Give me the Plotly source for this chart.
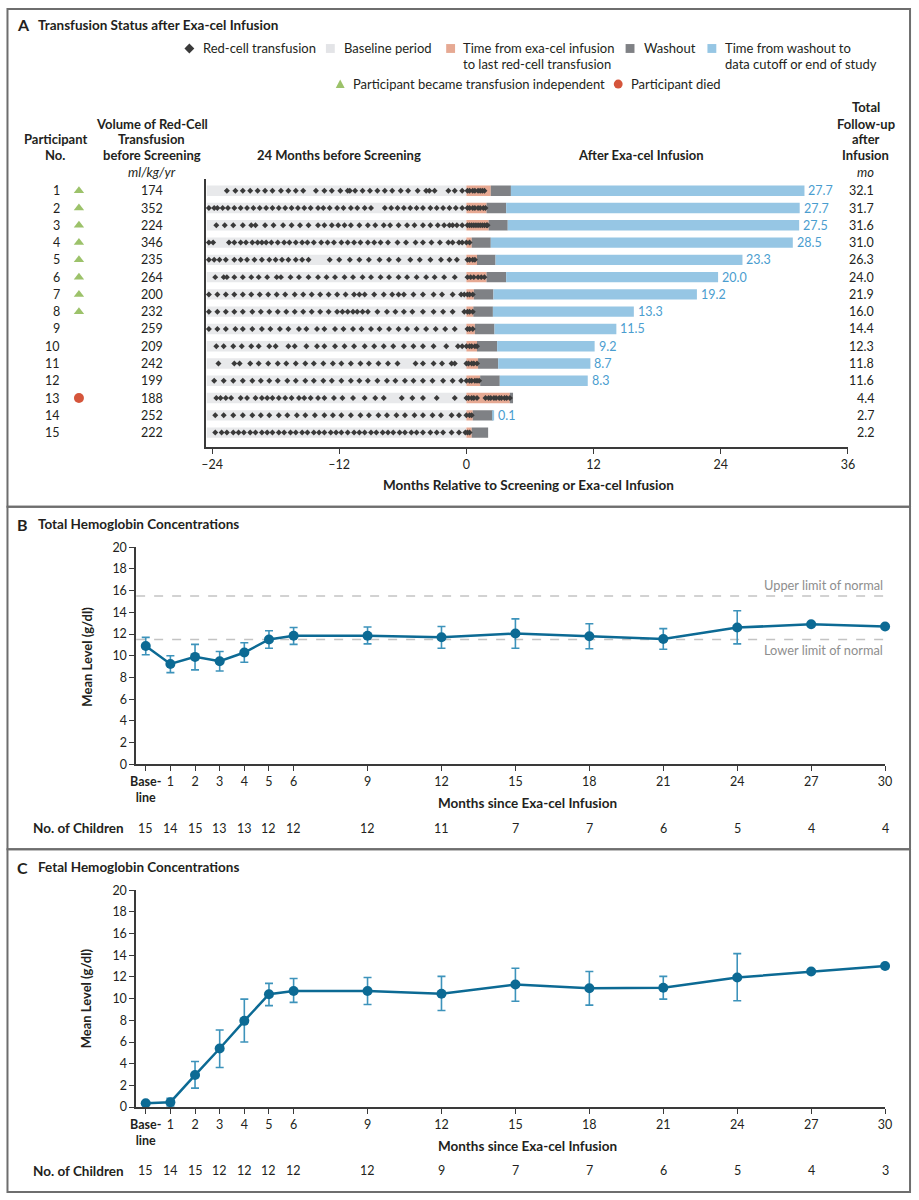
import plotly.graph_objects as go

W, H = 919, 1200
FONT = "Lato, Roboto, sans-serif"
TXT = "#231f20"

# ---------------- Panel A data ----------------
participants = list(range(1, 16))
volume = [174, 352, 224, 346, 235, 264, 200, 232, 259, 209, 242, 199, 188, 252, 222]
total_followup = [32.1, 31.7, 31.6, 31.0, 26.3, 24.0, 21.9, 16.0, 14.4, 12.3, 11.8, 11.6, 4.4, 2.7, 2.2]
indep_months = [27.7, 27.7, 27.5, 28.5, 23.3, 20.0, 19.2, 13.3, 11.5, 9.2, 8.7, 8.3, None, 0.1, None]
last_transfusion = [2.3, 1.9, 2.1, 0.5, 1.0, 1.9, 0.7, 0.65, 0.8, 1.0, 1.1, 1.3, 4.1, 0.6, 0.5]
washout_end = [4.2, 3.75, 3.9, 2.3, 2.75, 3.75, 2.55, 2.5, 2.65, 2.9, 3.0, 3.15, 4.4, 2.5, 2.05]
baseline_start = -24.5
status = ["ti", "ti", "ti", "ti", "ti", "ti", "ti", "ti", None, None, None, None, "died", None, None]

tx_01 = [-22.6, -21.8, -21.1, -20.4, -19.7, -19.0, -18.3, -17.5, -16.8, -16.1, -15.4, -14.2, -13.4, -12.7, -11.9, -11.2, -11.0, -10.5, -9.8, -9.1, -8.4, -7.7, -7.0, -6.2, -5.5, -4.6, -3.8, -3.5, -3.0, -1.7, -1.1, -0.4, 0.1, 0.3, 0.6, 0.8, 1.1, 1.3, 1.5, 1.7]
tx_02 = [-24.3, -23.8, -23.5, -23.0, -22.5, -21.9, -21.3, -20.7, -20.1, -19.5, -18.9, -18.3, -17.7, -17.1, -16.5, -15.9, -15.3, -14.7, -14.0, -13.5, -12.9, -12.2, -11.6, -10.9, -10.3, -9.6, -9.0, -7.7, -7.1, -6.5, -5.9, -5.3, -4.7, -4.1, -3.4, -2.8, -2.2, -1.6, -1.0, -0.4, 0.1, 0.3, 0.6, 0.8, 1.1, 1.3, 1.6, 1.8]
tx_03 = [-23.6, -22.8, -22.0, -21.1, -20.3, -19.9, -19.0, -18.2, -17.3, -16.5, -15.7, -14.9, -14.0, -13.4, -12.7, -12.1, -11.5, -10.9, -10.1, -9.3, -8.6, -7.8, -7.2, -6.4, -5.6, -4.9, -4.1, -3.4, -2.7, -2.1, -1.6, -1.3, -0.9, -0.4, 0.1, 0.3, 0.5, 0.7, 0.9, 1.1, 1.3, 1.5, 1.7, 1.9, 2.0]
tx_04 = [-24.3, -23.9, -22.4, -21.9, -21.3, -20.8, -20.2, -19.7, -19.3, -18.9, -18.4, -17.8, -17.2, -16.7, -16.1, -15.5, -15.0, -14.4, -13.7, -13.1, -12.5, -11.8, -11.2, -10.6, -10.0, -9.3, -8.7, -8.1, -7.4, -6.5, -5.7, -4.8, -4.1, -3.3, -2.5, -1.7, -1.3, -0.7, -0.4, 0.0, 0.3]
tx_05 = [-24.3, -23.8, -23.3, -22.7, -21.9, -21.3, -20.7, -20.0, -19.3, -18.6, -18.0, -17.4, -16.8, -16.1, -15.5, -14.9, -12.9, -12.0, -11.0, -10.1, -9.2, -8.2, -7.3, -6.4, -5.3, -4.4, -3.4, -2.4, -1.6, -0.9, 0.1, 0.3, 0.6, 0.8]
tx_06 = [-23.7, -22.9, -22.6, -21.9, -21.1, -20.3, -19.6, -18.8, -17.9, -17.5, -16.6, -15.8, -14.9, -14.0, -13.2, -12.4, -11.5, -10.7, -9.8, -9.0, -8.1, -7.3, -6.4, -5.6, -4.7, -3.8, -3.0, -2.1, -1.1, 0.1, 0.4, 0.7, 1.1, 1.4, 1.7]
tx_07 = [-24.3, -23.5, -22.7, -21.9, -21.1, -20.3, -19.5, -18.7, -17.9, -17.1, -16.2, -15.4, -14.6, -13.8, -13.0, -12.2, -11.4, -10.6, -10.1, -9.6, -8.7, -7.8, -7.0, -6.4, -5.9, -5.0, -4.1, -3.1, -2.3, -1.3, -0.5, -0.2, 0.1, 0.3, 0.6]
tx_08 = [-24.3, -23.5, -22.7, -21.9, -21.1, -20.2, -19.4, -18.6, -17.8, -17.0, -16.2, -15.4, -14.6, -13.8, -13.0, -12.2, -11.7, -11.2, -10.7, -10.3, -9.8, -9.3, -8.4, -7.5, -6.7, -5.9, -5.1, -4.1, -3.1, -2.2, -1.3, -0.2, 0.1, 0.3, 0.6]
tx_09 = [-24.3, -23.5, -22.7, -21.8, -21.1, -20.2, -19.3, -18.5, -17.6, -16.8, -15.8, -15.1, -14.1, -13.4, -12.4, -11.6, -10.7, -9.9, -9.0, -8.2, -7.3, -6.4, -5.6, -4.7, -3.8, -2.9, -2.0, -1.1, 0.1, 0.3, 0.6]
tx_10 = [-23.6, -22.9, -22.0, -21.2, -20.3, -19.6, -18.6, -18.0, -16.8, -16.2, -15.1, -14.1, -13.4, -12.4, -11.5, -10.6, -9.6, -8.7, -7.8, -6.9, -5.9, -5.0, -4.1, -3.1, -1.9, -0.8, -0.4, 0.0, 0.3, 0.5, 0.8, 1.0]
tx_11 = [-23.4, -21.9, -21.4, -20.4, -19.6, -18.7, -17.8, -17.0, -16.1, -15.2, -14.4, -13.5, -12.6, -11.8, -10.9, -10.0, -9.2, -8.3, -7.4, -6.5, -4.8, -4.1, -3.1, -2.3, -1.4, -1.1, 0.0, 0.2, 0.5, 0.7, 1.0]
tx_12 = [-23.8, -22.9, -22.0, -21.1, -20.2, -19.4, -18.6, -17.8, -16.9, -16.1, -15.2, -14.4, -13.5, -12.7, -11.8, -10.9, -10.1, -9.3, -8.4, -7.5, -6.7, -5.8, -5.0, -4.1, -3.2, -2.2, -1.3, -0.5, 0.0, 0.3, 0.5, 0.8, 1.0, 1.2]
tx_13 = [-23.6, -23.2, -22.7, -22.2, -21.3, -20.7, -19.9, -19.3, -18.8, -18.3, -17.7, -17.1, -16.5, -15.8, -15.3, -14.7, -14.0, -13.4, -12.5, -11.7, -10.7, -9.6, -8.6, -7.8, -6.1, -5.1, -4.1, -2.8, -1.1, 0.0, 0.2, 0.5, 0.7, 1.0, 1.8, 2.1, 2.3, 2.6, 2.8, 3.1, 3.3, 3.6, 3.8, 4.1]
tx_14 = [-23.7, -22.9, -22.0, -21.1, -20.2, -19.4, -18.6, -17.7, -16.9, -16.0, -15.2, -14.3, -13.4, -12.6, -11.8, -10.9, -10.0, -9.2, -8.3, -7.5, -6.6, -5.8, -4.9, -4.1, -3.2, -2.4, -1.4, -0.7, 0.0, 0.3, 0.5]
tx_15 = [-23.7, -23.1, -22.6, -22.0, -21.5, -21.0, -20.4, -19.9, -19.3, -18.8, -18.3, -17.7, -17.2, -16.6, -16.1, -15.5, -15.0, -14.4, -13.9, -13.4, -12.8, -12.3, -11.8, -11.2, -10.6, -10.1, -9.6, -9.0, -8.5, -7.9, -7.4, -6.9, -6.3, -5.8, -5.2, -4.7, -4.1, -3.4, -2.8, -2.2, -1.4, -0.7, -0.1, 0.1, 0.3]

# ---------------- Panels B & C data ----------------
months = [0, 1, 2, 3, 4, 5, 6, 9, 12, 15, 18, 21, 24, 27, 30]
month_labels = ["<b>Base-</b><br><b>line</b>", "1", "2", "3", "4", "5", "6", "9", "12", "15", "18", "21", "24", "27", "30"]

hb_mean = [10.9, 9.25, 9.9, 9.5, 10.3, 11.5, 11.85, 11.85, 11.7, 12.05, 11.8, 11.55, 12.6, 12.9, 12.7]
hb_upper = [11.7, 10.0, 11.05, 10.4, 11.2, 12.3, 12.6, 12.65, 12.7, 13.4, 12.95, 12.5, 14.15, None, None]
hb_lower = [10.1, 8.45, 8.7, 8.6, 9.4, 10.7, 11.05, 11.1, 10.7, 10.7, 10.65, 10.6, 11.1, None, None]
hb_n = [15, 14, 15, 13, 13, 12, 12, 12, 11, 7, 7, 6, 5, 4, 4]
hb_uln = 15.5
hb_lln = 11.5

hbf_mean = [0.35, 0.45, 2.95, 5.4, 7.95, 10.4, 10.7, 10.7, 10.45, 11.3, 10.95, 11.0, 11.95, 12.5, 13.0]
hbf_upper = [None, 0.8, 4.2, 7.1, 9.95, 11.4, 11.85, 11.95, 12.05, 12.8, 12.5, 12.05, 14.15, None, None]
hbf_lower = [None, 0.1, 1.75, 3.65, 6.0, 9.35, 9.65, 9.45, 8.9, 9.75, 9.4, 9.95, 9.8, None, None]
hbf_n = [15, 14, 15, 12, 12, 12, 12, 12, 9, 7, 7, 6, 5, 4, 3]

# ---------------- colours ----------------
C_BASE = "#e8e9eb"
C_PINK = "#e6a993"
C_WASH = "#7f8185"
C_BLUE = "#96c6e4"
C_BLUE_TXT = "#4a9dcf"
C_DIAM = "#3a3a3a"
C_TRI = "#9cc26a"
C_DIED = "#d5553b"
C_LINE = "#0c6a94"
C_ERR = "#3d93bb"
C_AXIS = "#3a3a3a"
BAR_W = 0.6


def X(px):
    return px / W


def Y(py):
    return 1 - py / H


fig = go.Figure()

# ---------- Panel A bars ----------
fig.add_trace(go.Bar(orientation="h", y=participants, x=[0 - baseline_start] * len(participants),
                     base=[baseline_start] * len(participants), marker=dict(color=C_BASE, line=dict(width=0)),
                     width=BAR_W, xaxis="x", yaxis="y", hoverinfo="skip"))
fig.add_trace(go.Bar(orientation="h", y=participants, x=last_transfusion, base=[0] * len(participants),
                     marker=dict(color=C_PINK, line=dict(width=0)), width=BAR_W, xaxis="x", yaxis="y"))
fig.add_trace(go.Bar(orientation="h", y=participants,
                     x=[w - l for w, l in zip(washout_end, last_transfusion)], base=last_transfusion,
                     marker=dict(color=C_WASH, line=dict(width=0)), width=BAR_W, xaxis="x", yaxis="y"))
blue_y = [p for p, d in zip(participants, indep_months) if d is not None]
blue_base = [w for w, d in zip(washout_end, indep_months) if d is not None]
blue_len = [d for d in indep_months if d is not None]
fig.add_trace(go.Bar(orientation="h", y=blue_y, x=blue_len, base=blue_base,
                     marker=dict(color=C_BLUE, line=dict(width=0)), width=BAR_W, xaxis="x", yaxis="y"))

# diamonds (red-cell transfusions)
tx_rows = [tx_01, tx_02, tx_03, tx_04, tx_05, tx_06, tx_07, tx_08, tx_09, tx_10, tx_11, tx_12, tx_13, tx_14, tx_15]
dx, dy = [], []
for p, row in zip(participants, tx_rows):
    dx += row
    dy += [p] * len(row)
fig.add_trace(go.Scatter(x=dx, y=dy, mode="markers", marker=dict(symbol="diamond", size=4.6, color=C_DIAM,
                                                                 line=dict(width=0)),
                         xaxis="x", yaxis="y", cliponaxis=False))

# status markers on helper axis x4 (spans the page width in page pixels)
ti_y = [p for p, s in zip(participants, status) if s == "ti"]
died_y = [p for p, s in zip(participants, status) if s == "died"]
fig.add_trace(go.Scatter(x=[74] * len(ti_y), y=ti_y, mode="markers",
                         marker=dict(symbol="triangle-up", size=9, color=C_TRI), xaxis="x4", yaxis="y"))
fig.add_trace(go.Scatter(x=[74] * len(died_y), y=died_y, mode="markers",
                         marker=dict(symbol="circle", size=10, color=C_DIED), xaxis="x4", yaxis="y"))


# ---------- Panels B & C ----------
def add_line_panel(mean, up, lo, xa, ya):
    idx = [i for i, v in enumerate(up) if v is not None]
    fig.add_trace(go.Scatter(
        x=[months[i] for i in idx], y=[mean[i] for i in idx], mode="markers",
        marker=dict(size=2, color="rgba(0,0,0,0)"),
        error_y=dict(type="data", symmetric=False, array=[up[i] - mean[i] for i in idx],
                     arrayminus=[mean[i] - lo[i] for i in idx], color=C_ERR, thickness=1.6, width=4),
        xaxis=xa, yaxis=ya, cliponaxis=False))
    fig.add_trace(go.Scatter(x=months, y=mean, mode="lines+markers",
                             line=dict(color=C_LINE, width=2.5), marker=dict(size=10, color=C_LINE),
                             xaxis=xa, yaxis=ya, cliponaxis=False))


add_line_panel(hb_mean, hb_upper, hb_lower, "x2", "y2")
add_line_panel(hbf_mean, hbf_upper, hbf_lower, "x3", "y3")

axis_common = dict(showgrid=False, zeroline=False, showline=True, linecolor=C_AXIS, linewidth=1.5,
                   ticks="outside", ticklen=5, tickwidth=1.3, tickcolor=C_AXIS,
                   tickfont=dict(size=12.5, color=TXT, family=FONT))

layout = dict(
    width=W, height=H, margin=dict(l=0, r=0, t=0, b=0),
    paper_bgcolor="white", plot_bgcolor="rgba(0,0,0,0)", showlegend=False,
    font=dict(family=FONT, size=13, color=TXT), barmode="overlay",
    xaxis=dict(domain=[X(203), X(854)], range=[-24.56, 36], tickvals=[-24, -12, 0, 12, 24, 36],
               ticktext=["–24", "–12", "0", "12", "24", "36"], anchor="y", **axis_common),
    yaxis=dict(domain=[Y(445), Y(173)], range=[15.86, 0.31], showgrid=False, zeroline=False,
               showline=True, linecolor=C_AXIS, linewidth=1.5, showticklabels=False, ticks="", anchor="x"),
    xaxis4=dict(domain=[0, 1], range=[0, W], visible=False, anchor="y", fixedrange=True),
    xaxis2=dict(domain=[X(132), X(891.7)], range=[-0.39, 30], tickvals=months, ticktext=month_labels,
                anchor="y2", **axis_common),
    yaxis2=dict(domain=[Y(766), Y(546)], range=[0, 20], tickvals=list(range(0, 21, 2)), anchor="x2",
                **axis_common),
    xaxis3=dict(domain=[X(132), X(891.7)], range=[-0.39, 30], tickvals=months, ticktext=month_labels,
                anchor="y3", **axis_common),
    yaxis3=dict(domain=[Y(1113), Y(893.3)], range=[0, 20], tickvals=list(range(0, 21, 2)), anchor="x3",
                **axis_common),
)
fig.update_layout(**layout)

shapes = []
ann = []

# blue bar labels
for yv, b, l in zip(blue_y, blue_base, blue_len):
    ann.append(dict(text=f"{l:.1f}", xref="x", yref="y", x=b + l, y=yv, xanchor="left", yanchor="middle",
                    xshift=2, showarrow=False, font=dict(size=12.5, color=C_BLUE_TXT)))

# panel frames
FR = dict(color="#6e6e6e", width=2)
for y0, y1 in [(1, 505), (505, 852), (852, 1199)]:
    shapes.append(dict(type="rect", xref="paper", yref="paper", x0=X(1.5), x1=X(917), y0=Y(y1), y1=Y(y0),
                       line=FR, fillcolor="rgba(0,0,0,0)", layer="below"))

# reference lines in panel B
for val in [hb_uln, hb_lln]:
    shapes.append(dict(type="line", xref="x2", yref="y2", x0=-0.39, x1=30, y0=val, y1=val,
                       line=dict(color="#c3c3c3", width=1.5, dash="dash"), layer="below"))
ann.append(dict(text="Upper limit of normal", xref="x2", yref="y2", x=30, y=hb_uln, xanchor="right",
                yanchor="bottom", yshift=1, showarrow=False, font=dict(size=12.8, color="#8e8e8e")))
ann.append(dict(text="Lower limit of normal", xref="x2", yref="y2", x=30, y=hb_lln, xanchor="right",
                yanchor="top", yshift=0, showarrow=False, font=dict(size=12.8, color="#8e8e8e")))


def txt(text, x, y, xanchor="center", yanchor="middle", size=13, color=TXT, **kw):
    d = dict(text=text, xref="paper", yref="paper", x=X(x), y=Y(y), xanchor=xanchor, yanchor=yanchor,
             showarrow=False, font=dict(size=size, color=color, family=FONT))
    d.update(kw)
    ann.append(d)


# titles
for letter, title, yy in [("A", "Transfusion Status after Exa-cel Infusion", 17),
                          ("B", "Total Hemoglobin Concentrations", 523),
                          ("C", "Fetal Hemoglobin Concentrations", 870)]:
    txt(f"<b>{letter}</b>", 9, yy, xanchor="left", size=16)
    txt(f"<b>{title}</b>", 30, yy, xanchor="left", size=13.5)


# legend (panel A)
def square(cx, cy, color, s=9):
    shapes.append(dict(type="rect", xref="paper", yref="paper", x0=X(cx - s / 2), x1=X(cx + s / 2),
                       y0=Y(cy + s / 2), y1=Y(cy - s / 2), line=dict(width=0), fillcolor=color))


def path(points, color):
    p = "M " + " L ".join(f"{X(a):.5f},{Y(b):.5f}" for a, b in points) + " Z"
    shapes.append(dict(type="path", xref="paper", yref="paper", path=p, line=dict(width=0), fillcolor=color))


path([(186, 36), (191, 41), (186, 46), (181, 41)], C_DIAM)
txt("Red-cell transfusion", 198, 41, xanchor="left")
square(329, 41, "#e3e4e7")
txt("Baseline period", 341, 41, xanchor="left")
square(451, 41, C_PINK)
txt("Time from exa-cel infusion", 462, 41, xanchor="left")
txt("to last red-cell transfusion", 462, 57, xanchor="left")
square(633, 41, C_WASH)
txt("Washout", 645, 41, xanchor="left")
square(716, 41, C_BLUE)
txt("Time from washout to", 727, 41, xanchor="left")
txt("data cutoff or end of study", 727, 57, xanchor="left")
path([(339, 72.5), (343.5, 81), (334.5, 81)], C_TRI)
txt("Participant became transfusion independent", 350, 77, xanchor="left")
shapes.append(dict(type="circle", xref="paper", yref="paper", x0=X(616.5), x1=X(625.5), y0=Y(81.5),
                   y1=Y(72.5), line=dict(width=0), fillcolor=C_DIED))
txt("Participant died", 632, 77, xanchor="left")

# column headers (one annotation per line)
for line, yy in [("Participant", 133), ("No.", 149)]:
    txt(f"<b>{line}</b>", 50, yy)
for line, yy in [("Volume of Red-Cell", 117), ("Transfusion", 133), ("before Screening", 149)]:
    txt(f"<b>{line}</b>", 148, yy)
txt("<i>ml/kg/yr</i>", 148, 166)
txt("<b>24 Months before Screening</b>", 338, 149)
txt("<b>After Exa-cel Infusion</b>", 644, 149)
for line, yy in [("Total", 100), ("Follow-up", 117), ("after", 133), ("Infusion", 149)]:
    txt(f"<b>{line}</b>", 872, yy)
txt("<i>mo</i>", 872, 166)

# row labels
for p, v, t in zip(participants, volume, total_followup):
    ann.append(dict(text=str(p), xref="paper", yref="y", x=X(57), y=p, xanchor="right", yanchor="middle",
                    showarrow=False, font=dict(size=12.5, color=TXT)))
    ann.append(dict(text=str(v), xref="paper", yref="y", x=X(148), y=p, xanchor="center", yanchor="middle",
                    showarrow=False, font=dict(size=12.5, color=TXT)))
    ann.append(dict(text=f"{t:.1f}", xref="paper", yref="y", x=X(882), y=p, xanchor="right",
                    yanchor="middle", showarrow=False, font=dict(size=12.5, color=TXT)))

txt("<b>Months Relative to Screening or Exa-cel Infusion</b>", 530, 483, size=13.5)

# panels B/C axis titles and counts
for ycen, ytitle, yn, counts, xa in [(657, 805, 830.7, hb_n, "x2"), (1003, 1152, 1177.7, hbf_n, "x3")]:
    txt("<b>Mean Level (g/dl)</b>", 82, ycen, size=13, textangle=-90)
    txt("<b>Months since Exa-cel Infusion</b>", 529, ytitle, size=13.5)
    txt("<b>No. of Children</b>", 25, yn, xanchor="left", size=13.5)
    for m, n in zip(months, counts):
        ann.append(dict(text=str(n), xref=xa, yref="paper", x=m, y=Y(yn), xanchor="center",
                        yanchor="middle", showarrow=False, font=dict(size=12.5, color=TXT)))

fig.update_layout(shapes=shapes, annotations=ann)

fig.write_html("out.html", config={"displayModeBar": False},
               post_script="});document.body.style.margin='0';(function(){")
